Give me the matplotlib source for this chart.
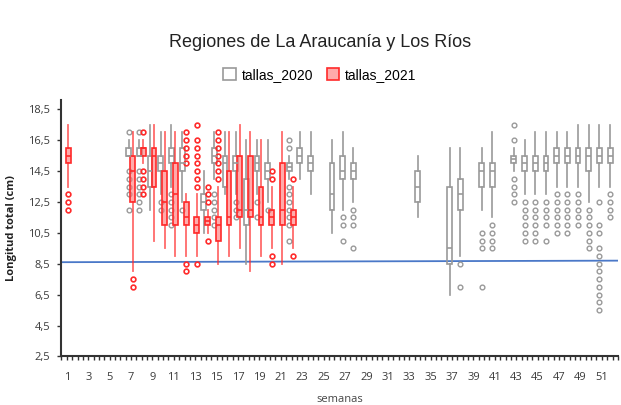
import matplotlib
matplotlib.use("Agg")
import matplotlib.pyplot as plt
from matplotlib.patches import Patch
from matplotlib.ticker import FixedLocator

# weekly length stats (cm): whisker low, Q1, median, Q3, whisker high, outliers
weeks_2020 = [7, 8, 9, 10, 11, 12, 14, 15, 16, 17, 18, 19, 20, 22, 23, 24, 26, 27, 28,
              34, 37, 38, 40, 41, 43, 44, 45, 46, 47, 48, 49, 50, 51, 52]
whislo_2020 = [15.5, 15.5, 12.0, 13.0, 13.5, 12.5, 10.5, 14.0, 13.0, 13.0, 8.5, 13.0, 12.5, 14.0, 14.0, 13.0, 10.5, 12.0, 12.5,
               11.5, 6.5, 9.0, 12.0, 11.5, 14.5, 13.0, 13.0, 13.0, 13.5, 13.5, 13.5, 12.5, 13.5, 13.5]
q1_2020 = [15.5, 15.5, 13.5, 14.5, 15.0, 14.5, 12.0, 15.0, 13.5, 14.5, 11.0, 14.5, 14.0, 14.5, 15.0, 14.5, 12.0, 14.0, 14.0,
           12.5, 8.5, 12.0, 13.5, 13.5, 15.0, 14.5, 14.5, 14.5, 15.0, 15.0, 15.0, 14.5, 15.0, 15.0]
med_2020 = [15.5, 15.5, 14.5, 15.0, 15.5, 15.0, 12.5, 15.5, 15.0, 15.0, 12.0, 15.0, 14.5, 14.75, 15.5, 15.0, 13.0, 14.5, 14.5,
            13.5, 9.5, 13.0, 14.5, 14.5, 15.25, 15.0, 15.0, 15.0, 15.5, 15.5, 15.5, 15.5, 15.5, 15.5]
q3_2020 = [16.0, 16.0, 15.5, 15.5, 16.0, 16.0, 13.0, 16.0, 15.5, 15.5, 14.0, 15.5, 15.0, 15.0, 16.0, 15.5, 15.0, 15.5, 15.0,
           14.5, 13.5, 14.0, 15.0, 15.0, 15.5, 15.5, 15.5, 15.5, 16.0, 16.0, 16.0, 16.0, 16.0, 16.0]
whishi_2020 = [16.5, 16.5, 17.5, 17.0, 17.5, 17.0, 14.5, 17.0, 17.0, 17.0, 16.5, 16.5, 16.5, 15.5, 17.0, 17.0, 16.5, 17.0, 16.0,
               15.5, 16.0, 16.0, 16.0, 17.0, 16.0, 16.5, 17.0, 17.0, 17.0, 17.0, 17.5, 17.5, 17.5, 17.5]
fliers_2020 = [
    [17.0, 14.5, 14.0, 13.5, 13.0, 12.0],
    [17.0, 14.5, 14.0, 13.5, 13.0, 12.5, 12.0],
    [],
    [12.5, 12.0],
    [13.0, 12.5, 12.0, 11.5, 11.0],
    [12.0],
    [],
    [13.0, 12.5, 12.0, 11.5, 11.0],
    [],
    [12.5, 12.0, 11.5],
    [],
    [12.5, 11.5],
    [12.0],
    [16.5, 16.0, 13.5, 13.0, 12.5, 12.0, 11.5, 11.0, 10.0],
    [],
    [],
    [],
    [11.5, 11.0, 10.0],
    [12.0, 11.5, 11.0, 9.5],
    [],
    [],
    [8.5, 7.0],
    [10.5, 10.0, 9.5, 7.0],
    [11.0, 10.5, 10.0, 9.5],
    [17.5, 16.5, 14.0, 13.5, 13.0, 12.5],
    [12.5, 12.0, 11.5, 11.0, 10.5, 10.0],
    [12.5, 12.0, 11.5, 11.0, 10.5, 10.0],
    [12.5, 12.0, 11.5, 11.0, 10.0],
    [13.0, 12.5, 12.0, 11.5, 11.0, 10.5],
    [13.0, 12.5, 12.0, 11.5, 11.0, 10.5],
    [13.0, 12.5, 12.0, 11.5, 11.0],
    [12.0, 11.5, 11.0, 10.5, 10.0, 9.5],
    [12.5, 11.0, 10.5, 9.5, 9.0, 8.5, 8.0, 7.5, 7.0, 6.5, 6.0, 5.5],
    [13.0, 12.5, 12.0, 11.5],
]

weeks_2021 = [1, 7, 8, 9, 10, 11, 12, 13, 14, 15, 16, 17, 18, 19, 20, 21, 22]
whislo_2021 = [13.5, 8.0, 15.0, 10.0, 9.5, 9.0, 9.0, 9.0, 10.5, 8.5, 9.0, 9.5, 8.0, 9.0, 9.5, 8.5, 9.5]
q1_2021 = [15.0, 12.5, 15.5, 13.5, 11.0, 11.0, 11.0, 10.5, 11.0, 10.0, 11.0, 11.5, 11.5, 11.0, 11.0, 11.0, 11.0]
med_2021 = [15.5, 14.5, 16.0, 15.5, 12.5, 13.0, 11.5, 11.0, 11.25, 11.0, 11.5, 12.0, 12.0, 11.5, 11.5, 12.0, 11.5]
q3_2021 = [16.0, 15.5, 16.0, 16.0, 14.5, 15.0, 12.5, 11.5, 11.5, 11.5, 14.5, 15.5, 15.5, 13.5, 12.0, 15.0, 12.0]
whishi_2021 = [17.5, 17.0, 16.5, 17.5, 17.0, 17.0, 13.0, 13.0, 12.0, 13.5, 17.0, 17.5, 17.0, 16.5, 13.5, 17.0, 13.5]
fliers_2021 = [
    [13.0, 12.5, 12.0],
    [7.5, 7.0],
    [17.0, 14.5, 14.0, 13.5, 13.0],
    [],
    [],
    [],
    [17.0, 16.5, 16.0, 15.5, 15.0, 8.5, 8.0],
    [17.5, 16.5, 16.0, 15.5, 15.0, 14.5, 14.0, 13.5, 8.5],
    [13.5, 13.0, 12.5, 10.0],
    [17.0, 16.5, 16.0, 15.5, 15.0, 14.5, 14.0],
    [],
    [],
    [],
    [],
    [14.5, 14.0, 9.0, 8.5],
    [],
    [14.0, 9.0],
]

# reference line (talla minima)
ref_x = [0.5, 52.5]
ref_y = [8.6, 8.7]

series_names = ["tallas_2020", "tallas_2021"]
x_labels = list(range(1, 52, 2))
y_ticks = [2.5, 4.5, 6.5, 8.5, 10.5, 12.5, 14.5, 16.5, 18.5]


def make_stats(whislo, q1, med, q3, whishi, fliers):
    stats = []
    for i in range(len(med)):
        stats.append(dict(whislo=whislo[i], q1=q1[i], med=med[i], q3=q3[i],
                          whishi=whishi[i], fliers=fliers[i]))
    return stats


plt.rcParams['font.family'] = ['Open Sans', 'DejaVu Sans']

fig = plt.figure(figsize=(6.21, 4.05), dpi=100)
ax = fig.add_axes([0.099, 0.12, 0.896, 0.633])

gray = "#999999"
red = "#ff2a2a"

stats_2020 = make_stats(whislo_2020, q1_2020, med_2020, q3_2020, whishi_2020, fliers_2020)
stats_2021 = make_stats(whislo_2021, q1_2021, med_2021, q3_2021, whishi_2021, fliers_2021)

ax.bxp(stats_2020, positions=[w - 0.22 for w in weeks_2020], widths=0.45,
       patch_artist=True, showcaps=False,
       boxprops=dict(facecolor="none", edgecolor=gray, linewidth=1.2),
       whiskerprops=dict(color=gray, linewidth=1.2),
       medianprops=dict(color=gray, linewidth=1.2),
       flierprops=dict(marker="o", markersize=3.4, markerfacecolor="none",
                       markeredgecolor=gray, markeredgewidth=1.0))

ax.bxp(stats_2021, positions=[w + 0.15 for w in weeks_2021], widths=0.45,
       patch_artist=True, showcaps=False,
       boxprops=dict(facecolor=(1.0, 0.45, 0.45, 0.6), edgecolor=red, linewidth=1.2),
       whiskerprops=dict(color=red, linewidth=1.3, alpha=0.7),
       medianprops=dict(color=red, linewidth=1.2),
       flierprops=dict(marker="o", markersize=3.4, markerfacecolor="none",
                       markeredgecolor=red, markeredgewidth=1.2))

ax.plot(ref_x, ref_y, color="#4a78c8", linewidth=1.3, zorder=1)

ax.set_xlim(0.5, 52.5)
ax.set_ylim(2.5, 19.1)

ax.xaxis.set_major_locator(FixedLocator(x_labels))
ax.set_xticklabels([str(w) for w in x_labels])
minor_x = [h / 2 for h in range(1, 106) if (h / 2) not in x_labels]
ax.xaxis.set_minor_locator(FixedLocator(minor_x))
ax.set_yticks(y_ticks)
ax.set_yticklabels([str(v).replace(".", ",") for v in y_ticks])

ax.tick_params(axis="both", which="both", direction="out", length=3, width=1,
               color="#333333", labelsize=8, labelcolor="#3a3a3a")
ax.tick_params(axis="x", which="both", pad=8)
ax.tick_params(axis="y", pad=5)

for side in ["top", "right"]:
    ax.spines[side].set_visible(False)
for side in ["left", "bottom"]:
    ax.spines[side].set_color("#333333")
    ax.spines[side].set_linewidth(1.5)

ax.set_ylabel("Longitud total (cm)", fontsize=8, fontweight="bold", color="#222222", labelpad=8)
ax.set_xlabel("semanas", fontsize=8, color="#444444", labelpad=8)

fig.text(0.515, 0.895, "Regiones de La Araucanía y Los Ríos", ha="center", va="center",
         fontsize=13, family="Liberation Sans", color="#222222")

handles = [Patch(facecolor="white", edgecolor=gray, linewidth=1.2),
           Patch(facecolor=(1.0, 0.45, 0.45, 0.6), edgecolor=red, linewidth=1.2)]
fig.legend(handles, series_names, loc="center", bbox_to_anchor=(0.515, 0.815), ncol=2,
           frameon=False, handlelength=0.9, handleheight=0.9,
           handletextpad=0.4, columnspacing=1.0,
           prop={"family": "Liberation Sans", "size": 10})

fig.savefig("out.png", dpi=100)
